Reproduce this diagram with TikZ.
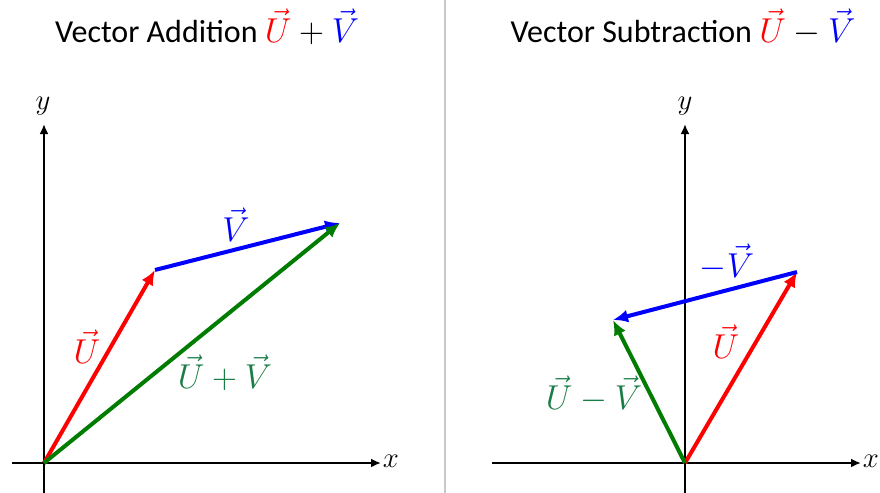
\documentclass[tikz,border=0pt]{standalone}
\usepackage{fontspec}
\setmainfont{Carlito}
\usetikzlibrary{arrows.meta}
\definecolor{vecgreen}{RGB}{0,125,0}
\definecolor{labelgreen}{RGB}{25,125,70}
\definecolor{sepgray}{RGB}{200,200,200}
\tikzset{
  axis/.style = {line width=1pt, -{Latex[length=5pt,width=4.5pt]}},
  vec/.style = {line width=2pt, -{Latex[length=7.5pt,width=6.5pt]}},
  veclabel/.style = {font=\fontsize{18}{18}\selectfont},
  axislabel/.style = {font=\fontsize{15}{15}\selectfont},
  title/.style = {font=\fontsize{16}{16}\selectfont},
}

\begin{document}
\begin{tikzpicture}[x = 0.5pt, y = -0.5pt]
\useasboundingbox (0,0) rectangle (880,493);
\draw[sepgray, line width=1pt] (445,0) -- (445,493);
% addition
\node[title] (addtitle) at (207,27) {Vector Addition $\textcolor{red}{\vec{U}}+\textcolor{blue}{\vec{V}}$};
\coordinate (O1) at (44,463);
\coordinate (x1a) at (12,463); \coordinate (x1b) at (381,463);
\coordinate (y1a) at (44,493); \coordinate (y1b) at (44,124);
\draw[axis] (x1a) -- (x1b);
\draw[axis] (y1a) -- (y1b);
\node[axislabel] (xlab1) at (391,461) {$x$};
\node[axislabel] (ylab1) at (43,106) {$y$};
\coordinate (U1) at (155,270);
\coordinate (S1) at (340,223);
\draw[vec, red] (O1) -- (U1);
\draw[vec, blue] (U1) -- (S1);
\draw[vec, vecgreen] (O1) -- (S1);
\node[veclabel, red] (Ulab1) at (87,347) {$\vec{U}$};
\node[veclabel, blue] (Vlab1) at (236,225) {$\vec{V}$};
\node[veclabel, labelgreen] (Slab1) at (225,373) {$\vec{U}+\vec{V}$};
% subtraction
\node[title] (subtitle) at (683,27) {Vector Subtraction $\textcolor{red}{\vec{U}}-\textcolor{blue}{\vec{V}}$};
\coordinate (O2) at (685,463);
\coordinate (x2a) at (492,463); \coordinate (x2b) at (861,463);
\coordinate (y2a) at (685,493); \coordinate (y2b) at (685,124);
\draw[axis] (x2a) -- (x2b);
\draw[axis] (y2a) -- (y2b);
\node[axislabel] (xlab2) at (871,461) {$x$};
\node[axislabel] (ylab2) at (685,106) {$y$};
\coordinate (U2) at (797,272);
\coordinate (D2) at (613,320);
\draw[vec, red] (O2) -- (U2);
\draw[vec, blue] (U2) -- (D2);
\draw[vec, vecgreen] (O2) -- (D2);
\node[veclabel, blue] (Vlab2) at (727,262) {$-\vec{V}$};
\node[veclabel, red] (Ulab2) at (726,342) {$\vec{U}$};
\node[veclabel, labelgreen] (Dlab2) at (594,394) {$\vec{U}-\vec{V}$};
\end{tikzpicture}
\end{document}
